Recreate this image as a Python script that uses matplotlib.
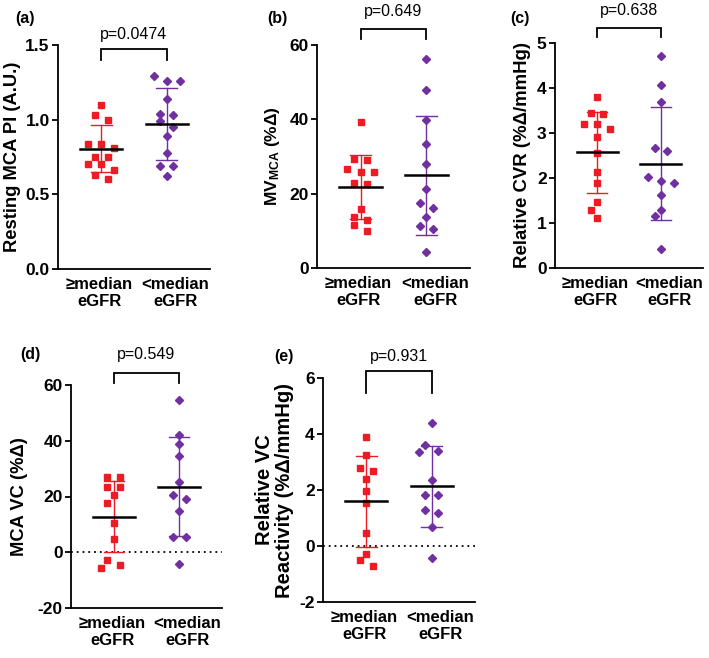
import matplotlib
matplotlib.use("Agg")
import matplotlib.pyplot as plt
import numpy as np

plt.rcParams['font.family'] = ['Liberation Sans', 'DejaVu Sans']
plt.rcParams['mathtext.fontset'] = 'custom'
plt.rcParams['mathtext.rm'] = 'Liberation Sans:bold'
plt.rcParams['mathtext.it'] = 'Liberation Sans:bold'
plt.rcParams['mathtext.bf'] = 'Liberation Sans:bold'

RED = "#ed1c24"
PURPLE = "#7030a0"

groups = ["\u2265median\neGFR", "<median\neGFR"]

# (a) resting MCA PI
pi_hi = [1.10, 1.03, 1.00, 0.84, 0.84, 0.81, 0.75, 0.75, 0.70, 0.70, 0.66, 0.63, 0.60]
pi_lo = [1.29, 1.26, 1.26, 1.14, 1.04, 1.03, 0.99, 0.95, 0.89, 0.78, 0.69, 0.69, 0.62]
pi_mean = [0.805, 0.970]
pi_sd = [0.156, 0.240]

# (b) MV MCA
mv_hi = [39.2, 29.3, 29.1, 26.6, 25.8, 25.7, 22.9, 22.5, 15.9, 13.6, 12.8, 11.5, 10.0]
mv_lo = [56.3, 47.8, 39.8, 33.4, 28.0, 21.2, 17.6, 16.2, 13.8, 11.4, 10.4, 4.2]
mv_mean = [21.9, 24.9]
mv_sd = [8.6, 16.0]

# (c) relative CVR
cvr_hi = [3.81, 3.44, 3.43, 3.19, 3.19, 3.10, 2.92, 2.56, 2.13, 1.89, 1.47, 1.30, 1.11]
cvr_lo = [4.72, 4.07, 3.70, 2.66, 2.61, 2.02, 1.94, 1.89, 1.63, 1.30, 1.15, 0.42]
cvr_mean = [2.57, 2.32]
cvr_sd = [0.90, 1.26]

# (d) MCA VC
vc_hi = [26.9, 26.9, 23.3, 23.3, 20.5, 17.8, 10.4, 4.9, -2.7, -4.6, -5.6]
vc_lo = [54.6, 42.1, 38.7, 34.6, 25.3, 20.5, 19.0, 14.8, 5.4, 5.4, -4.2]
vc_mean = [12.8, 23.5]
vc_sd = [12.8, 17.8]

# (e) relative VC reactivity
vcr_hi = [3.89, 3.24, 2.77, 2.68, 2.38, 1.97, 1.54, 0.48, -0.27, -0.51, -0.73]
vcr_lo = [4.39, 3.60, 3.39, 3.36, 2.35, 1.83, 1.81, 1.27, 1.18, 0.68, -0.43]
vcr_mean = [1.59, 2.13]
vcr_sd = [1.62, 1.45]

W, H = 709, 658
XPX = 65.0  # pixels per category unit


def swarm(vals, center, ypx, step=0.1, rowtol=6, gap=9):
    # ypx: pixels per y unit. rows of near-equal values are spread symmetrically,
    # lone points are nudged sideways if they touch an earlier one
    rows = []
    for v in sorted(vals, reverse=True):
        if rows and (rows[-1][0] - v) * ypx <= rowtol:
            rows[-1].append(v)
        else:
            rows.append([v])
    placed = []
    for row in rows:
        n = len(row)
        if n > 1:
            for i, v in enumerate(row):
                placed.append((center + (i - (n - 1) / 2) * 2 * step, v))
            continue
        v = row[0]
        for k in [0, -1, 1, -2, 2, -3, 3]:
            x = center + k * step
            ok = all(np.hypot((x - px) * XPX, (v - py) * ypx) >= gap for px, py in placed)
            if ok:
                break
        placed.append((x, v))
    return [p[0] for p in placed], [p[1] for p in placed]


def panel(fig, box, hi, lo, means, sds, yticks, fmt, ylabel, ylsize, lpad, letter, lpos,
          ptxt, bracket, leg, ptext_y, zero_line=False):
    x0, x1, ytop, ybot = box
    ax = fig.add_axes([x0 / W, 1 - ybot / H, (x1 - x0) / W, (ybot - ytop) / H])
    ymin, ymax = yticks[0], yticks[-1]
    ypx = (ybot - ytop) / (ymax - ymin)
    xlim = (-0.66, 1.66)
    if zero_line:
        ax.plot(xlim, [0, 0], color='black', lw=1.3, ls=(0, (1, 2.2)), zorder=1)
    for i, (vals, col, mk, ms) in enumerate([(hi, RED, 's', 4.0), (lo, PURPLE, 'D', 4.0)]):
        xs, ys = swarm(vals, i, ypx)
        ax.plot(xs, ys, ls='none', marker=mk, ms=ms, color=col, mec=col, zorder=2)
        m, s = means[i], sds[i]
        ax.plot([i, i], [m - s, m + s], color=col, lw=1.0, zorder=3)
        ax.plot([i - 0.16, i + 0.16], [m + s, m + s], color=col, lw=1.0, zorder=3)
        ax.plot([i - 0.16, i + 0.16], [m - s, m - s], color=col, lw=1.0, zorder=3)
        ax.plot([i - 0.32, i + 0.32], [m, m], color='black', lw=1.8, zorder=4)
    ax.set_xlim(*xlim)
    ax.set_ylim(ymin, ymax)
    ax.set_yticks(yticks)
    ax.set_yticklabels([fmt.format(t) for t in yticks])
    # category labels sit a little wider apart than the data columns
    ax.set_xticks([-0.03, 1.13])
    ax.set_xticklabels(groups, fontweight='bold', fontsize=12, linespacing=1.15)
    ax.tick_params(axis='x', length=0, pad=6)
    ax.tick_params(axis='y', length=4, width=1.3, labelsize=12.5, pad=2)
    for t in ax.get_yticklabels():
        t.set_fontweight('bold')
    for sp in ['top', 'right']:
        ax.spines[sp].set_visible(False)
    for sp in ['left', 'bottom']:
        ax.spines[sp].set_linewidth(1.3)
    ax.set_ylabel(ylabel, fontsize=ylsize, fontweight='bold', labelpad=lpad, linespacing=1.1)
    ax.plot([0, 0, 1, 1], [leg, bracket, bracket, leg], color='black', lw=1.3,
            clip_on=False, solid_joinstyle='miter')
    ax.text(0.5, ptext_y, ptxt, ha='center', va='center', fontsize=11.5, clip_on=False)
    fig.text(lpos[0] / W, 1 - lpos[1] / H, letter, ha='center', va='center',
             fontsize=11.5, fontweight='bold')
    return ax


fig = plt.figure(figsize=(W / 100, H / 100), dpi=100)

panel(fig, (58, 210, 45, 269), pi_hi, pi_lo, pi_mean, pi_sd, [0, 0.5, 1.0, 1.5], "{:.1f}",
      "Resting MCA PI (A.U.)", 13.2, 3, "(a)", (25, 18), "p=0.0474", 1.473, 1.40, 1.567)
panel(fig, (317, 470, 45, 268), mv_hi, mv_lo, mv_mean, mv_sd, [0, 20, 40, 60], "{:.0f}",
      "MV$_{\\mathregular{MCA}}$ (%\u0394)", 12.5, 5, "(b)", (277, 18), "p=0.649", 64.2, 61.5, 68.9)
panel(fig, (555, 703, 43, 268), cvr_hi, cvr_lo, cvr_mean, cvr_sd, [0, 1, 2, 3, 4, 5], "{:.0f}",
      "Relative CVR (%\u0394/mmHg)", 13.4, 4, "(c)", (520, 18), "p=0.638", 5.33, 5.13, 5.73)
panel(fig, (71, 222, 385, 608), vc_hi, vc_lo, vc_mean, vc_sd, [-20, 0, 20, 40, 60], "{:.0f}",
      "MCA VC (%\u0394)", 13.2, 7, "(d)", (30, 355), "p=0.549", 64.3, 60.7, 70.8, zero_line=True)
panel(fig, (323, 475, 378, 602), vcr_hi, vcr_lo, vcr_mean, vcr_sd, [-2, 0, 2, 4, 6], "{:.0f}",
      "Relative VC\nReactivity (%\u0394/mmHg)", 14.5, 3.5, "(e)", (284, 357), "p=0.931",
      6.25, 5.46, 6.75, zero_line=True)

fig.savefig("out.png", dpi=100)
